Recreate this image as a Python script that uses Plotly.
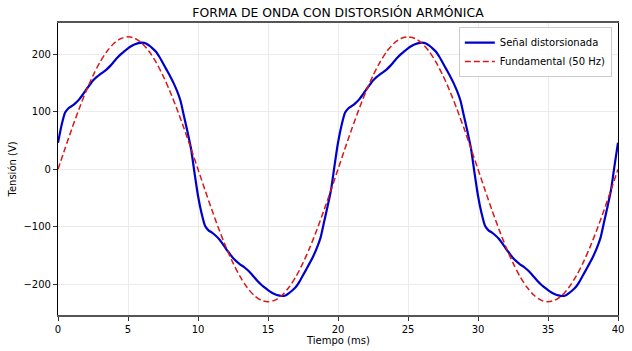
import plotly.graph_objects as go

# Time axis (ms)
t_blue = [0.0, 0.25, 0.5, 0.75, 1.0, 1.25, 1.5, 1.75, 2.0, 2.25, 2.5, 2.75, 3.0, 3.25, 3.5, 3.75,
          4.0, 4.25, 4.5, 4.75, 5.0, 5.25, 5.5, 5.75, 6.0, 6.25, 6.5, 6.75, 7.0, 7.25, 7.5, 7.75,
          8.0, 8.25, 8.5, 8.75, 9.0, 9.25, 9.5, 9.75, 10.0, 10.25, 10.5, 10.75, 11.0, 11.25, 11.5, 11.75,
          12.0, 12.25, 12.5, 12.75, 13.0, 13.25, 13.5, 13.75, 14.0, 14.25, 14.5, 14.75, 15.0, 15.25, 15.5, 15.75,
          16.0, 16.25, 16.5, 16.75, 17.0, 17.25, 17.5, 17.75, 18.0, 18.25, 18.5, 18.75, 19.0, 19.25, 19.5, 19.75,
          20.0, 20.25, 20.5, 20.75, 21.0, 21.25, 21.5, 21.75, 22.0, 22.25, 22.5, 22.75, 23.0, 23.25, 23.5, 23.75,
          24.0, 24.25, 24.5, 24.75, 25.0, 25.25, 25.5, 25.75, 26.0, 26.25, 26.5, 26.75, 27.0, 27.25, 27.5, 27.75,
          28.0, 28.25, 28.5, 28.75, 29.0, 29.25, 29.5, 29.75, 30.0, 30.25, 30.5, 30.75, 31.0, 31.25, 31.5, 31.75,
          32.0, 32.25, 32.5, 32.75, 33.0, 33.25, 33.5, 33.75, 34.0, 34.25, 34.5, 34.75, 35.0, 35.25, 35.5, 35.75,
          36.0, 36.25, 36.5, 36.75, 37.0, 37.25, 37.5, 37.75, 38.0, 38.25, 38.5, 38.75, 39.0, 39.25, 39.5, 39.75,
          40.0]

v_distorted = [46, 76, 98, 106, 110, 115, 121, 129, 138, 146, 154, 160, 165, 169, 174, 180,
               187, 194, 200, 205, 210, 214, 217, 219, 220, 219, 215, 210, 204, 195, 184, 173,
               162, 150, 136, 119, 92, 65, 36, -6,
               -46, -76, -98, -106, -110, -115, -121, -129, -138, -146, -154, -160, -165, -169, -174, -180,
               -187, -194, -200, -205, -210, -214, -217, -219, -220, -219, -215, -210, -204, -195, -184, -173,
               -162, -150, -136, -119, -92, -65, -36, 6,
               46, 76, 98, 106, 110, 115, 121, 129, 138, 146, 154, 160, 165, 169, 174, 180,
               187, 194, 200, 205, 210, 214, 217, 219, 220, 219, 215, 210, 204, 195, 184, 173,
               162, 150, 136, 119, 92, 65, 36, -6,
               -46, -76, -98, -106, -110, -115, -121, -129, -138, -146, -154, -160, -165, -169, -174, -180,
               -187, -194, -200, -205, -210, -214, -217, -219, -220, -219, -215, -210, -204, -195, -184, -173,
               -162, -150, -136, -119, -92, -65, -36, 6,
               46]

t_fund = [0.0, 0.5, 1.0, 1.5, 2.0, 2.5, 3.0, 3.5, 4.0, 4.5, 5.0, 5.5, 6.0, 6.5, 7.0, 7.5, 8.0, 8.5, 9.0, 9.5,
          10.0, 10.5, 11.0, 11.5, 12.0, 12.5, 13.0, 13.5, 14.0, 14.5, 15.0, 15.5, 16.0, 16.5, 17.0, 17.5, 18.0, 18.5, 19.0, 19.5,
          20.0, 20.5, 21.0, 21.5, 22.0, 22.5, 23.0, 23.5, 24.0, 24.5, 25.0, 25.5, 26.0, 26.5, 27.0, 27.5, 28.0, 28.5, 29.0, 29.5,
          30.0, 30.5, 31.0, 31.5, 32.0, 32.5, 33.0, 33.5, 34.0, 34.5, 35.0, 35.5, 36.0, 36.5, 37.0, 37.5, 38.0, 38.5, 39.0, 39.5,
          40.0]

v_fundamental = [0, 36.0, 71.1, 104.4, 135.2, 162.6, 186.1, 204.9, 218.8, 227.2,
                 230, 227.2, 218.8, 204.9, 186.1, 162.6, 135.2, 104.4, 71.1, 36.0,
                 0, -36.0, -71.1, -104.4, -135.2, -162.6, -186.1, -204.9, -218.8, -227.2,
                 -230, -227.2, -218.8, -204.9, -186.1, -162.6, -135.2, -104.4, -71.1, -36.0,
                 0, 36.0, 71.1, 104.4, 135.2, 162.6, 186.1, 204.9, 218.8, 227.2,
                 230, 227.2, 218.8, 204.9, 186.1, 162.6, 135.2, 104.4, 71.1, 36.0,
                 0, -36.0, -71.1, -104.4, -135.2, -162.6, -186.1, -204.9, -218.8, -227.2,
                 -230, -227.2, -218.8, -204.9, -186.1, -162.6, -135.2, -104.4, -71.1, -36.0,
                 0]

x_ticks = [0, 5, 10, 15, 20, 25, 30, 35, 40]
y_ticks = [-200, -100, 0, 100, 200]

FONT = "DejaVu Sans"

fig = go.Figure()
fig.add_trace(go.Scatter(x=t_blue, y=v_distorted, mode="lines", name="Señal distorsionada",
                         line=dict(color="#0000cc", width=2.2, shape="spline", smoothing=0.6)))
fig.add_trace(go.Scatter(x=t_fund, y=v_fundamental, mode="lines", name="Fundamental (50 Hz)",
                         line=dict(color="#d81818", width=1.5, dash="6px,3px", shape="spline", smoothing=0.8)))

fig.update_layout(
    width=632, height=351,
    margin=dict(l=58, r=8, t=23, b=36),
    paper_bgcolor="white", plot_bgcolor="white",
    font=dict(family=FONT, size=10, color="black"),
    title=dict(text="FORMA DE ONDA CON DISTORSIÓN ARMÓNICA", x=0.5, xref="paper",
               y=1 - 13 / 351, yref="container", yanchor="middle", xanchor="center",
               font=dict(family=FONT, size=12.4, color="black")),
    showlegend=True,
    legend=dict(x=0.989, y=0.986, xanchor="right", yanchor="top",
                bgcolor="rgba(255,255,255,0.85)", bordercolor="#cccccc", borderwidth=1,
                font=dict(family=FONT, size=10), tracegroupgap=0,
                itemwidth=30),
    xaxis=dict(range=[0, 40], tickvals=x_ticks, showgrid=True, gridcolor="#ebebeb", gridwidth=1,
               zeroline=False, showline=True, linecolor="#555555", linewidth=2, mirror=True,
               ticks="outside", ticklen=4, tickcolor="#333333",
               tickfont=dict(family=FONT, size=10)),
    yaxis=dict(range=[-253, 254], tickvals=y_ticks, showgrid=True, gridcolor="#ebebeb", gridwidth=1,
               zeroline=False, showline=True, linecolor="black", linewidth=1.2, mirror=True,
               ticks="outside", ticklen=4, tickcolor="#333333",
               tickfont=dict(family=FONT, size=10)),
    annotations=[
        dict(text="Tiempo (ms)", x=0.5, y=-(340 - 315) / 292, xref="paper", yref="paper",
             xanchor="center", yanchor="middle", showarrow=False, font=dict(family=FONT, size=10)),
        dict(text="Tensión (V)", x=(12 - 58) / 566, y=0.5, xref="paper", yref="paper",
             xanchor="center", yanchor="middle", textangle=-90, showarrow=False,
             font=dict(family=FONT, size=10)),
    ],
)

fig.write_html("out.html")
